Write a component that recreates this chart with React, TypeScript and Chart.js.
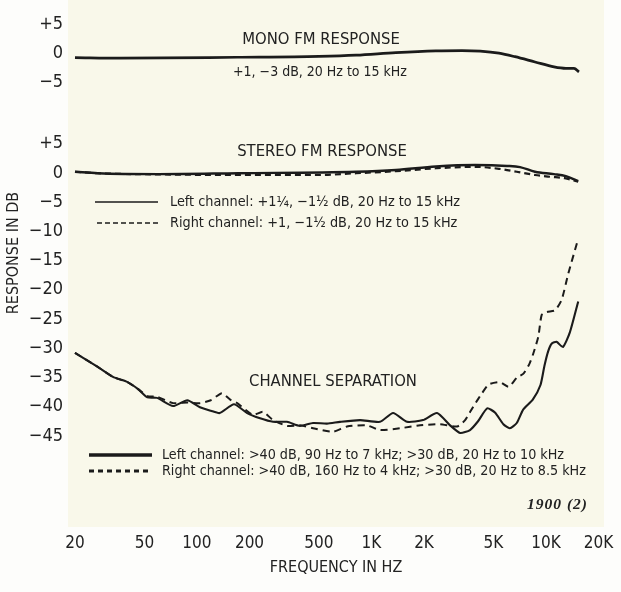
import React, { useEffect, useRef } from "react";
import { Chart, registerables } from "chart.js";

Chart.register(...registerables);

// ---------- axes ----------
const X_TICKS = [20, 50, 100, 200, 500, 1000, 2000, 5000, 10000, 20000];
const X_TICK_LABELS = ["20", "50", "100", "200", "500", "1K", "2K", "5K", "10K", "20K"];
const X_MIN = 18.24;
const X_MAX = 21500;
const Y_MIN = -60.6;
const Y_MAX = 29.6;

const MONO_OFFSET = 20.5;
const MONO_TICKS = [5, 0, -5];
const MAIN_TICKS = [5, 0, -5, -10, -15, -20, -25, -30, -35, -40, -45];

// ---------- data (frequency in Hz, response in dB) ----------
const MONO_FREQ = [20, 36, 170, 500, 816, 1380, 2340, 3300, 4200, 5380, 6640, 8650, 11120, 13000, 14470, 15460];
const MONO_DB = [-0.75, -0.85, -0.7, -0.55, -0.35, 0.1, 0.4, 0.45, 0.35, 0.0, -0.6, -1.5, -2.35, -2.6, -2.6, -3.2];

const STEREO_L_FREQ = [20, 27, 60, 172, 816, 1380, 2340, 3920, 5980, 7100, 8650, 11100, 13000, 15300];
const STEREO_L_DB = [0.2, -0.05, -0.2, -0.05, 0.2, 0.5, 1.1, 1.35, 1.2, 1.0, 0.2, -0.2, -0.55, -1.4];

const STEREO_R_FREQ = [20, 27, 60, 172, 500, 816, 1380, 2340, 3920, 5400, 6800, 8650, 10500, 12800, 15300];
const STEREO_R_DB = [0.2, -0.05, -0.25, -0.35, -0.35, -0.05, 0.3, 0.8, 1.05, 0.7, 0.2, -0.35, -0.65, -0.9, -1.5];

const SEP_L_FREQ = [20, 27, 33, 40, 46, 52, 59, 73, 88, 104, 120, 135, 163, 194, 230, 273, 328, 389, 462, 556, 660, 860, 1120, 1330, 1600, 1975, 2375, 2820, 3220, 3670, 4080, 4600, 5100, 5700, 6200, 6800, 7400, 8400, 9300, 9800, 10300, 10800, 11500, 12500, 13700, 15300];
const SEP_L_DB = [-30.8, -33.2, -34.9, -35.8, -37.0, -38.4, -38.5, -39.9, -38.9, -40.1, -40.7, -41.1, -39.6, -41.1, -42.0, -42.6, -42.6, -43.3, -42.8, -42.9, -42.6, -42.3, -42.6, -41.1, -42.6, -42.3, -41.1, -43.2, -44.5, -44.0, -42.5, -40.3, -41.0, -43.0, -43.7, -42.8, -40.5, -38.8, -36.3, -33.0, -30.5, -29.2, -28.9, -29.8, -27.3, -22.0];

const SEP_R_FREQ = [20, 27, 33, 40, 46, 52, 59, 73, 88, 104, 120, 139, 155, 170, 209, 239, 273, 328, 389, 462, 600, 724, 939, 1120, 1457, 1900, 2470, 3100, 3440, 3830, 4300, 4700, 5450, 6100, 6830, 7400, 8000, 8460, 9040, 9450, 10100, 11270, 12300, 13430, 15120];
const SEP_R_DB = [-30.8, -33.2, -34.9, -35.8, -37.0, -38.2, -38.3, -39.4, -39.3, -39.4, -38.9, -37.7, -38.8, -39.4, -41.4, -40.9, -42.3, -43.3, -43.2, -43.7, -44.3, -43.4, -43.2, -44.0, -43.7, -43.2, -43.0, -43.4, -42.3, -40.0, -37.7, -36.2, -35.8, -36.6, -35.0, -34.4, -32.8, -30.9, -28.0, -24.3, -23.8, -23.5, -21.7, -17.2, -11.8];

// ---------- text ----------
const MONO_TITLE = "MONO FM RESPONSE";
const MONO_NOTE = "+1, \u22123 dB, 20 Hz to 15 kHz";
const STEREO_TITLE = "STEREO FM RESPONSE";
const STEREO_LEGEND = [
  "Left channel: +1\u00BC, \u22121\u00BD dB, 20 Hz to 15 kHz",
  "Right channel: +1, \u22121\u00BD dB, 20 Hz to 15 kHz",
];
const SEP_TITLE = "CHANNEL SEPARATION";
const SEP_LEGEND = [
  "Left channel: >40 dB, 90 Hz to 7 kHz; >30 dB, 20 Hz to 10 kHz",
  "Right channel: >40 dB, 160 Hz to 4 kHz; >30 dB, 20 Hz to 8.5 kHz",
];
const FIG_NUMBER = "1900 (2)";
const X_TITLE = "FREQUENCY IN HZ";
const Y_TITLE = "RESPONSE IN DB";

// ---------- styling ----------
const INK = "#1b1b1b";
const TEXT = "#222222";
const PAPER = "#f9f8ea";
const MARGIN = "#fdfdfb";
const FAMILY = "'Liberation Sans Narrow', 'Arial Narrow', 'DejaVu Sans Condensed', Roboto, sans-serif";

const fmt = (v: number) => (v > 0 ? "+" + v : v < 0 ? "\u2212" + Math.abs(v) : "0");

const Y_TICK_PAIRS = [
  ...MONO_TICKS.map((t) => ({ value: t + MONO_OFFSET, label: fmt(t) })),
  ...MAIN_TICKS.map((t) => ({ value: t, label: fmt(t) })),
].sort((a, b) => a.value - b.value);

const toPoints = (f: number[], d: number[], off = 0) => f.map((x, i) => ({ x, y: d[i] + off }));

type Txt = { text: string; x: number; y: number; align: CanvasTextAlign; font: string; rotate?: boolean; spacing?: string };
const TEXTS: Txt[] = [
  { text: MONO_TITLE, x: 321, y: 40, align: "center", font: `16.5px ${FAMILY}` },
  { text: MONO_NOTE, x: 320, y: 72, align: "center", font: `14px ${FAMILY}` },
  { text: STEREO_TITLE, x: 322, y: 152, align: "center", font: `16.5px ${FAMILY}` },
  { text: STEREO_LEGEND[0], x: 170, y: 202, align: "left", font: `14.3px ${FAMILY}` },
  { text: STEREO_LEGEND[1], x: 170, y: 223, align: "left", font: `14.3px ${FAMILY}` },
  { text: SEP_TITLE, x: 333, y: 382, align: "center", font: `16.5px ${FAMILY}` },
  { text: SEP_LEGEND[0], x: 162, y: 455, align: "left", font: `14.2px ${FAMILY}` },
  { text: SEP_LEGEND[1], x: 162, y: 471, align: "left", font: `14.2px ${FAMILY}` },
  { text: FIG_NUMBER, x: 588, y: 505, align: "right", font: `italic bold 15.5px 'Liberation Serif', serif`, spacing: "1px" },
  { text: Y_TITLE, x: 14, y: 253, align: "center", font: `16px ${FAMILY}`, rotate: true },
];

const KEY_LINES = [
  { x1: 95, x2: 158, y: 202, width: 1.6, dash: [] as number[] },
  { x1: 97, x2: 158, y: 223, width: 1.3, dash: [5, 3] },
  { x1: 89, x2: 152, y: 455, width: 3.4, dash: [] as number[] },
  { x1: 89, x2: 152, y: 471, width: 3, dash: [5, 4] },
];

const paperPlugin = {
  id: "paper",
  beforeDraw(chart: any) {
    const { ctx, chartArea: a, width, height } = chart;
    ctx.save();
    ctx.fillStyle = MARGIN;
    ctx.fillRect(0, 0, width, height);
    ctx.fillStyle = PAPER;
    ctx.fillRect(a.left, a.top, a.right - a.left, a.bottom - a.top);
    ctx.restore();
  },
};

const notesPlugin = {
  id: "notes",
  afterDatasetsDraw(chart: any) {
    const { ctx } = chart;
    ctx.save();
    ctx.fillStyle = TEXT;
    ctx.textBaseline = "middle";
    for (const t of TEXTS) {
      ctx.font = t.font;
      ctx.textAlign = t.align;
      (ctx as any).letterSpacing = t.spacing || "0px";
      if (t.rotate) {
        ctx.save();
        ctx.translate(t.x, t.y);
        ctx.rotate(-Math.PI / 2);
        ctx.fillText(t.text, 0, 0);
        ctx.restore();
      } else {
        ctx.fillText(t.text, t.x, t.y);
      }
    }
    (ctx as any).letterSpacing = "0px";
    ctx.strokeStyle = INK;
    for (const k of KEY_LINES) {
      ctx.lineWidth = k.width;
      ctx.setLineDash(k.dash);
      ctx.beginPath();
      ctx.moveTo(k.x1, k.y);
      ctx.lineTo(k.x2, k.y);
      ctx.stroke();
    }
    ctx.restore();
  },
};

export default function App() {
  const ref = useRef<HTMLCanvasElement>(null);

  useEffect(() => {
    if (!ref.current) return;
    const chart = new Chart(ref.current, {
      type: "line",
      data: {
        datasets: [
          {
            label: "Mono FM response",
            data: toPoints(MONO_FREQ, MONO_DB, MONO_OFFSET),
            borderColor: INK,
            borderWidth: 2.7,
            pointRadius: 0,
            cubicInterpolationMode: "monotone",
          },
          {
            label: "Stereo left",
            data: toPoints(STEREO_L_FREQ, STEREO_L_DB),
            borderColor: INK,
            borderWidth: 2.4,
            pointRadius: 0,
            cubicInterpolationMode: "monotone",
          },
          {
            label: "Stereo right",
            data: toPoints(STEREO_R_FREQ, STEREO_R_DB),
            borderColor: INK,
            borderWidth: 2.2,
            borderDash: [6, 4],
            pointRadius: 0,
            cubicInterpolationMode: "monotone",
          },
          {
            label: "Separation left",
            data: toPoints(SEP_L_FREQ, SEP_L_DB),
            borderColor: INK,
            borderWidth: 2.1,
            pointRadius: 0,
            tension: 0.2,
          },
          {
            label: "Separation right",
            data: toPoints(SEP_R_FREQ, SEP_R_DB),
            borderColor: INK,
            borderWidth: 2,
            borderDash: [7, 5],
            pointRadius: 0,
            tension: 0.2,
          },
        ],
      },
      options: {
        animation: false,
        responsive: false,
        devicePixelRatio: 1,
        layout: { padding: { left: 0, right: 17, top: 0, bottom: 0 } },
        plugins: { legend: { display: false }, tooltip: { enabled: false } },
        scales: {
          x: {
            type: "logarithmic",
            min: X_MIN,
            max: X_MAX,
            grid: { display: false, drawTicks: false },
            border: { display: false },
            afterBuildTicks: (s: any) => {
              s.ticks = X_TICKS.map((v) => ({ value: v }));
            },
            afterFit: (s: any) => {
              s.height = 65;
              s.paddingLeft = 0;
              s.paddingRight = 0;
            },
            ticks: {
              autoSkip: false,
              maxRotation: 0,
              padding: 6,
              color: TEXT,
              font: { family: FAMILY, size: 17 },
              callback: (_v: any, i: number) => X_TICK_LABELS[i],
            },
            title: {
              display: true,
              text: X_TITLE,
              color: TEXT,
              font: { family: FAMILY, size: 16 },
              padding: { top: 0, bottom: 15 },
            },
          },
          y: {
            type: "linear",
            min: Y_MIN,
            max: Y_MAX,
            grid: { display: false, drawTicks: false },
            border: { display: false },
            afterBuildTicks: (s: any) => {
              s.ticks = Y_TICK_PAIRS.map((p) => ({ value: p.value }));
            },
            afterFit: (s: any) => {
              s.width = 68;
              s.paddingTop = 0;
              s.paddingBottom = 0;
            },
            ticks: {
              autoSkip: false,
              padding: 5,
              color: TEXT,
              font: { family: FAMILY, size: 18 },
              callback: (_v: any, i: number) => Y_TICK_PAIRS[i].label,
            },
          },
        },
      },
      plugins: [paperPlugin, notesPlugin],
    } as any);
    return () => chart.destroy();
  }, []);

  return (
    <div style={{ position: "fixed", left: 0, top: 0, width: 621, height: 592, background: MARGIN }}>
      <canvas ref={ref} width={621} height={592} style={{ display: "block", width: 621, height: 592 }} />
    </div>
  );
}
